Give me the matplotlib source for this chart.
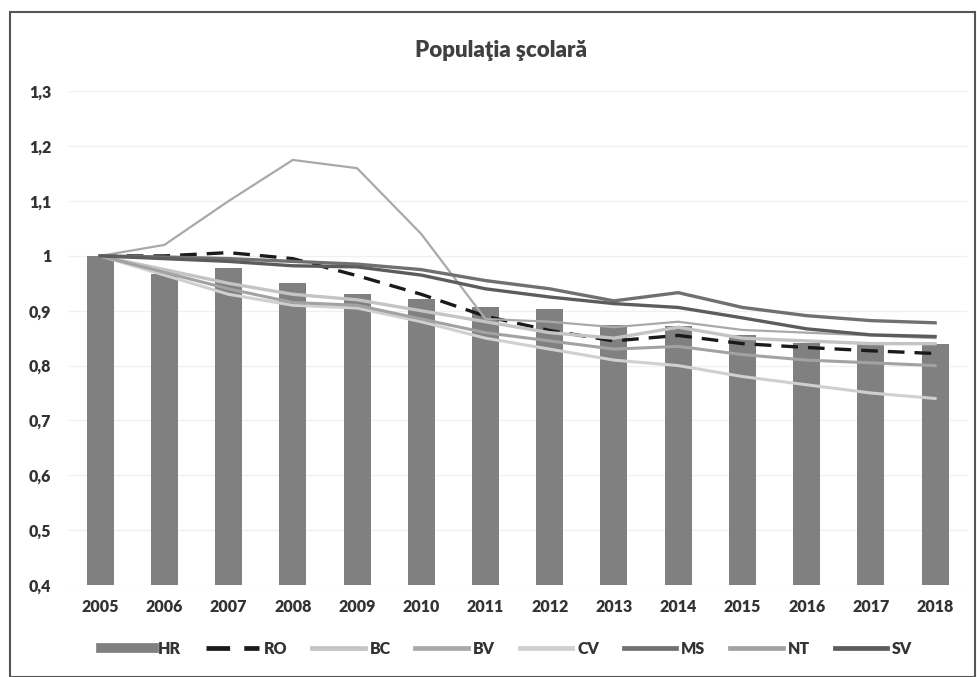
import matplotlib
matplotlib.use("Agg")
import matplotlib.pyplot as plt
from matplotlib.lines import Line2D
from matplotlib.patches import Rectangle
import numpy as np

plt.rcParams['font.family'] = ['Lato', 'DejaVu Sans']

# Indicele populatiei scolare (2005 = 1)
years = ['2005', '2006', '2007', '2008', '2009', '2010', '2011',
         '2012', '2013', '2014', '2015', '2016', '2017', '2018']

hr = [1.0, 0.967, 0.978, 0.951, 0.931, 0.922, 0.906,
      0.903, 0.874, 0.873, 0.855, 0.842, 0.84, 0.84]
ro = [1.0, 1.0, 1.006, 0.995, 0.964, 0.93, 0.89,
      0.864, 0.845, 0.855, 0.84, 0.833, 0.827, 0.822]
bc = [1.0, 0.975, 0.95, 0.93, 0.92, 0.9, 0.88,
      0.86, 0.85, 0.87, 0.85, 0.845, 0.84, 0.84]
bv = [1.0, 1.02, 1.1, 1.175, 1.16, 1.04, 0.885,
      0.88, 0.87, 0.88, 0.865, 0.86, 0.855, 0.85]
cv = [1.0, 0.965, 0.93, 0.91, 0.905, 0.88, 0.85,
      0.83, 0.81, 0.8, 0.78, 0.765, 0.75, 0.74]
ms = [1.0, 0.998, 0.995, 0.99, 0.985, 0.975, 0.955,
      0.94, 0.918, 0.933, 0.906, 0.891, 0.882, 0.878]
nt = [1.0, 0.97, 0.94, 0.915, 0.91, 0.885, 0.86,
      0.845, 0.83, 0.835, 0.82, 0.81, 0.805, 0.80]
sv = [1.0, 0.995, 0.99, 0.982, 0.98, 0.965, 0.94,
      0.925, 0.913, 0.906, 0.887, 0.867, 0.856, 0.853]

yticks = [0.4, 0.5, 0.6, 0.7, 0.8, 0.9, 1.0, 1.1, 1.2, 1.3]

line_series = [
    ('RO', ro, '#1a1a1a', 2.4, (0, (5, 3))),
    ('BC', bc, '#c4c4c4', 2.4, '-'),
    ('BV', bv, '#a9a9a9', 1.6, '-'),
    ('CV', cv, '#d0d0d0', 2.2, '-'),
    ('MS', ms, '#707070', 2.4, '-'),
    ('NT', nt, '#a2a2a2', 2.2, '-'),
    ('SV', sv, '#5c5c5c', 2.4, '-'),
]

fig = plt.figure(figsize=(9.78, 6.77), dpi=100)
ax = fig.add_axes([0.0695, 0.136, 0.9195, 0.729])

x = np.arange(len(years))
ax.bar(x, hr, width=0.42, color='#808080', zorder=2)

for name, vals, col, lw, ls in line_series:
    ax.plot(x, vals, color=col, linewidth=lw, linestyle=ls, zorder=3)

ax.set_xlim(-0.5, len(years) - 0.5)
ax.set_ylim(0.4, 1.3)
ax.set_yticks(yticks)
ax.set_yticklabels([('%g' % v).replace('.', ',') for v in yticks])
ax.set_xticks(x)
ax.set_xticklabels(years)
ax.tick_params(length=0, labelsize=11.5, colors='#333333', pad=10)
for lbl in ax.get_xticklabels() + ax.get_yticklabels():
    lbl.set_fontweight('heavy')
ax.tick_params(axis='y', pad=12)

ax.grid(axis='y', color='#f0f0f0', linewidth=1, zorder=0)
ax.set_axisbelow(True)
for s in ax.spines.values():
    s.set_visible(False)

fig.text(0.512, 0.926, 'Populaţia şcolară', ha='center', va='center',
         fontsize=16, fontweight='heavy', color='#404040')

# Legend
handles = [Line2D([], [], color='#808080', linewidth=7)]
labels = ['HR']
for name, vals, col, lw, ls in line_series:
    handles.append(Line2D([], [], color=col, linewidth=max(lw, 2.4) + 1, linestyle=ls))
    labels.append(name)
leg = fig.legend(handles, labels, loc='center', bbox_to_anchor=(0.518, 0.042),
                 ncol=8, frameon=False, handlelength=3.3, columnspacing=1.55,
                 handletextpad=0.3, prop={'size': 11.5, 'weight': 'heavy'})
for t in leg.get_texts():
    t.set_color('#333333')

# chart frame
fig.patches.append(Rectangle((0.010, 0.0), 0.987, 0.982, transform=fig.transFigure,
                             fill=False, edgecolor='#555555', linewidth=1.5))

fig.savefig('out.png', dpi=100)
